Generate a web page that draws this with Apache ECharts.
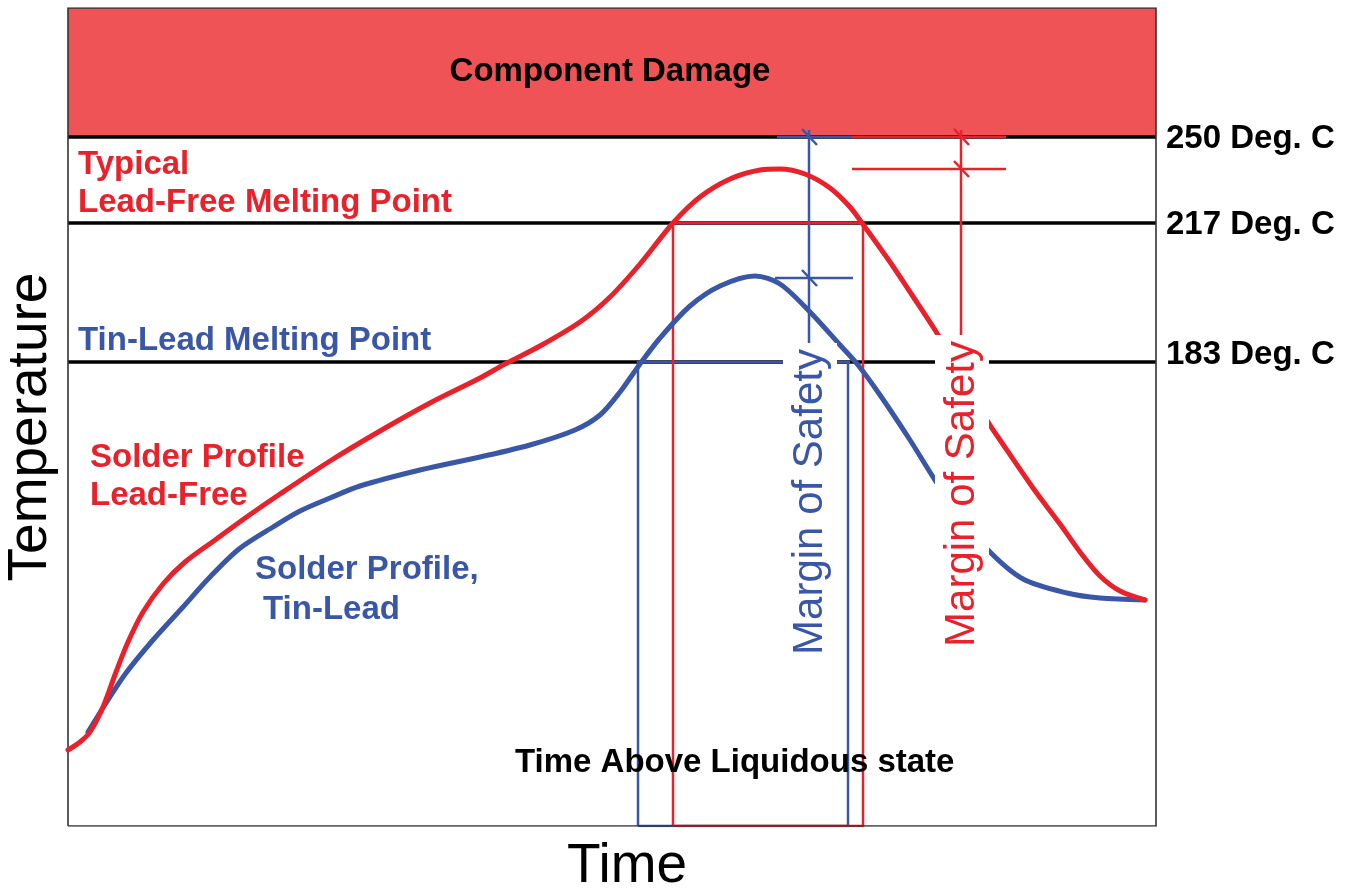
<!DOCTYPE html>
<html>
<head>
<meta charset="utf-8">
<script src="https://cdn.jsdelivr.net/npm/echarts@6/dist/echarts.min.js"></script>
<style>
html,body{margin:0;padding:0;background:#fff;}
#chart{width:1349px;height:893px;}
</style>
</head>
<body>
<div id="chart"></div>
<script>
// Schematic reflow profile. Units: time and temperature in arbitrary plot units (schematic, non-linear temperature scale).
const timeLeadFree = [0,12,22,35,48,60,75,95,117,147,180,212,262,312,362,412,437,472,512,542,572,605,632,662,692,712,737,762,782,794,822,844,867,892,920,932,965,992,1012,1032,1052,1077];
const tempLeadFree = [76,84,94,119,154,184,214,242,264,286,310,332,365,395,423,448,462,480,504,529,562,603,629,647,656,657,652,638,619,603,564,531,496,454,404,386,338,302,274,250,235,226];

const timeTinLead = [20,38,58,85,115,141,171,205,232,262,292,352,412,462,507,532,552,572,592,622,652,687,712,742,772,790,812,842,867,892,920,955,999,1032,1077];
const tempTinLead = [94,123,153,186,219,248,277,299,315,328,340,356,369,381,396,411,434,462,488,520,540,550,542,514,481,461,431,386,346,311,276,247,233,228,226];

const levelLabels = ['250 Deg. C','217 Deg. C','183 Deg. C'];
const levelValues = [689, 603, 464];
const timeMax = 1088;
const tempMax = 818;

// time above liquidus windows [start, end]
const tinLeadWindow = [570, 780];
const leadFreeWindow = [605, 795];
// peaks used for margin of safety
const tinLeadPeak = 548;
const leadFreePeak = 657;
const marginTime = [741, 893];
const marginTickSpan = [[709, 784], [784, 938]];

const BLUE = '#3A56A6';
const RED = '#E8212B';
const FONT = '"Liberation Sans", Arial, Helvetica, sans-serif';
const LABEL_SIZE = 33;

const zip = (a, b) => a.map((v, i) => [v, b[i]]);

const chart = echarts.init(document.getElementById('chart'), null, {renderer: 'canvas'});

function slash(x, y) { return {coords: [[x - 7, y + 8], [x + 8, y - 8]]}; }

const boldLabel = (color) => ({
  show: true, formatter: '{b}', position: [0, 0], align: 'left', verticalAlign: 'middle', opacity: 1,
  color: color, fontSize: LABEL_SIZE, fontWeight: 'bold', fontFamily: FONT
});
const marginLabel = (color) => ({
  show: true, formatter: 'Margin of Safety', position: [0, 0], align: 'center', verticalAlign: 'middle', rotate: 90,
  opacity: 1, color: color, fontSize: 42, fontFamily: FONT, backgroundColor: '#fff', padding: [0, 6], lineHeight: 54
});

const texts = [
  {name: 'Component Damage', value: [542, 754], label: Object.assign(boldLabel('#000'), {align: 'center'})},
  {name: 'Typical', value: [10, 661], label: boldLabel(RED)},
  {name: 'Lead-Free Melting Point', value: [10, 623], label: boldLabel(RED)},
  {name: 'Tin-Lead Melting Point', value: [10, 485], label: boldLabel(BLUE)},
  {name: 'Solder Profile', value: [22, 368], label: boldLabel(RED)},
  {name: 'Lead-Free', value: [22, 330], label: boldLabel(RED)},
  {name: 'Solder Profile,', value: [187, 256], label: boldLabel(BLUE)},
  {name: 'Tin-Lead', value: [195, 216], label: boldLabel(BLUE)},
  {name: 'Time Above Liquidous state', value: [447, 63], label: boldLabel('#000')},
  {name: 'Margin of Safety (Tin-Lead)', value: [742, 324], label: marginLabel(BLUE)},
  {name: 'Margin of Safety (Lead-Free)', value: [894, 332], label: marginLabel(RED)}
];

const option = {
  animation: false,
  backgroundColor: '#fff',
  grid: {left: 68, top: 8, width: 1088, height: 818, show: false, outerBoundsMode: 'none', containLabel: false},
  xAxis: {
    type: 'value', min: 0, max: timeMax,
    axisLine: {show: false}, axisTick: {show: false}, axisLabel: {show: false}, splitLine: {show: false},
    name: 'Time', nameLocation: 'middle', nameGap: 13,
    nameTextStyle: {fontSize: 55, color: '#000', fontFamily: FONT, verticalAlign: 'top', padding: [0, 0, 0, 30]}
  },
  yAxis: {
    type: 'value', min: 0, max: tempMax,
    axisLine: {show: false}, axisTick: {show: false}, axisLabel: {show: false}, splitLine: {show: false},
    name: 'Temperature', nameLocation: 'middle', nameGap: 10,
    nameTextStyle: {fontSize: 55, color: '#000', fontFamily: FONT, padding: [0, 20, 0, 0]}
  },
  series: [
    {
      type: 'line', data: [], z: 1, silent: true,
      markArea: {
        silent: true, z: 1,
        itemStyle: {color: '#F05356', opacity: 1},
        data: [[{yAxis: levelValues[0]}, {yAxis: tempMax}]]
      },
      markLine: {
        silent: true, z: 2, symbol: ['none', 'none'],
        lineStyle: {color: '#000', width: 3.5, type: 'solid'},
        label: {show: true, position: 'end', distance: 10, color: '#000', fontSize: LABEL_SIZE, fontWeight: 'bold', fontFamily: FONT},
        data: levelValues.map((v, i) => ({
          yAxis: v,
          label: {formatter: levelLabels[i], offset: i === 2 ? [0, -7] : [0, 2]}
        }))
      }
    },
    {
      type: 'lines', coordinateSystem: 'cartesian2d', polyline: true, z: 3, silent: true,
      lineStyle: {color: BLUE, width: 2.5, opacity: 1},
      data: [
        {coords: [[tinLeadWindow[0], 0], [tinLeadWindow[0], levelValues[2]], [tinLeadWindow[1] + 2, levelValues[2]]]},
        {coords: [[tinLeadWindow[1], levelValues[2]], [tinLeadWindow[1], 0], [tinLeadWindow[0], 0]]},
        {coords: [[marginTime[0], tempMax - 122], [marginTime[0], 470]]},
        {coords: [[marginTickSpan[0][0], levelValues[0]], [marginTickSpan[0][1], levelValues[0]]]},
        {coords: [[marginTickSpan[0][0] - 2, tinLeadPeak], [marginTickSpan[0][1] + 1, tinLeadPeak]]},
        slash(marginTime[0], levelValues[0]),
        slash(marginTime[0], tinLeadPeak)
      ]
    },
    {
      type: 'lines', coordinateSystem: 'cartesian2d', polyline: true, z: 3, silent: true,
      lineStyle: {color: RED, width: 2.5, opacity: 1},
      data: [
        {coords: [[leadFreeWindow[0], 0], [leadFreeWindow[0], levelValues[1]], [leadFreeWindow[1], levelValues[1]], [leadFreeWindow[1], 0], [leadFreeWindow[0], 0]]},
        {coords: [[marginTime[1], tempMax - 122], [marginTime[1], 480]]},
        {coords: [[marginTickSpan[1][0], levelValues[0]], [marginTickSpan[1][1], levelValues[0]]]},
        {coords: [[marginTickSpan[1][0], leadFreePeak], [marginTickSpan[1][1], leadFreePeak]]},
        slash(marginTime[1], levelValues[0]),
        slash(marginTime[1], leadFreePeak)
      ]
    },
    {
      type: 'lines', coordinateSystem: 'cartesian2d', polyline: true, z: 3, silent: true,
      lineStyle: {color: '#333', width: 1.6, opacity: 1},
      data: [{coords: [[0, 0], [0, tempMax], [timeMax, tempMax], [timeMax, 0], [0, 0]]}]
    },
    {
      name: 'Solder Profile, Tin-Lead', type: 'line', z: 4, silent: true,
      data: zip(timeTinLead, tempTinLead), showSymbol: false, smooth: 0.3,
      lineStyle: {color: BLUE, width: 5, cap: 'round', join: 'round'}
    },
    {
      name: 'Solder Profile Lead-Free', type: 'line', z: 4, silent: true,
      data: zip(timeLeadFree, tempLeadFree), showSymbol: false, smooth: 0.3,
      lineStyle: {color: RED, width: 5, cap: 'round', join: 'round'}
    },
    {
      type: 'scatter', z: 6, silent: true, symbolSize: 0,
      itemStyle: {opacity: 1},
      data: texts
    }
  ]
};
chart.setOption(option);
</script>
</body>
</html>
